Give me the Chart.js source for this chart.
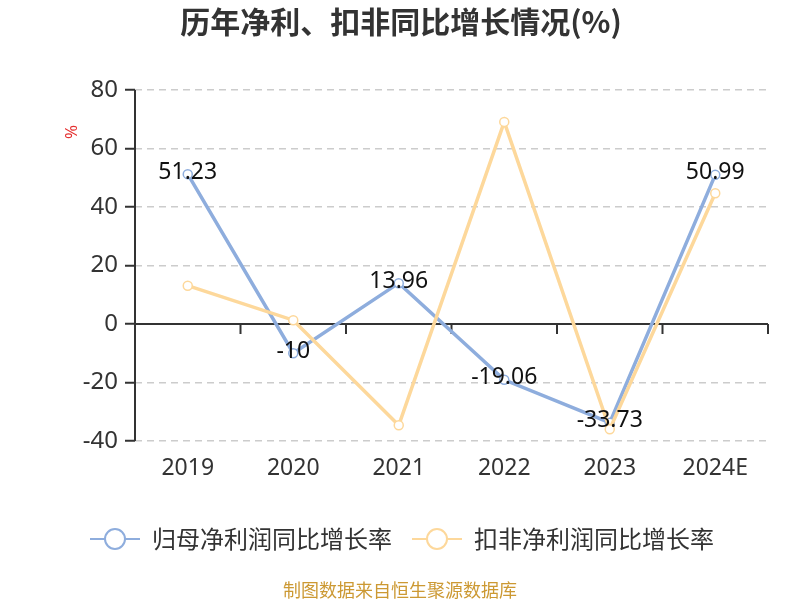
<!DOCTYPE html>
<html><head><meta charset="utf-8">
<script src="https://cdn.jsdelivr.net/npm/chart.js@4/dist/chart.umd.min.js"></script>
<style>html,body{margin:0;padding:0;background:#fff}#wrap{width:800px;height:600px;position:relative}</style>
</head><body><div id="wrap"><canvas id="c"></canvas></div>
<script>
const categories = ['2019', '2020', '2021', '2022', '2023', '2024E'];
const netProfitGrowth = [51.23, -10, 13.96, -19.06, -33.73, 50.99];
const deductedProfitGrowth = [13.1, 1.3, -34.6, 69.1, -36.0, 44.7];
const yTickValues = [-40, -20, 0, 20, 40, 60, 80];
const seriesNames = ['归母净利润同比增长率', '扣非净利润同比增长率'];
const titleText = '历年净利、扣非同比增长情况(%)';
const unitText = '%';
const sourceText = '制图数据来自恒生聚源数据库';

const BLUE = '#8eaddd';
const ORANGE = '#fdd89b';
const FONT = '"Noto Sans", "Noto Sans CJK SC", sans-serif';
const CJK = '"Noto Sans CJK SC", "Noto Sans", sans-serif';

function legendIcon(color) {
  const c = document.createElement('canvas');
  c.width = 50; c.height = 26;
  const g = c.getContext('2d');
  g.strokeStyle = color; g.lineWidth = 2;
  g.beginPath(); g.moveTo(0, 13); g.lineTo(50, 13); g.stroke();
  g.beginPath(); g.arc(25, 13, 10, 0, Math.PI * 2);
  g.fillStyle = '#fff'; g.fill(); g.stroke();
  return c;
}
const icons = [legendIcon(BLUE), legendIcon(ORANGE)];

const decorPlugin = {
  id: 'decor',
  beforeDatasetsDraw(chart) {
    const {ctx, chartArea, scales} = chart;
    const x = scales.x, y = scales.y;
    const y0 = y.getPixelForValue(0);
    ctx.save();
    ctx.strokeStyle = '#333'; ctx.lineWidth = 2;
    ctx.beginPath(); ctx.moveTo(chartArea.left, chartArea.top); ctx.lineTo(chartArea.left, chartArea.bottom); ctx.stroke();
    ctx.beginPath(); ctx.moveTo(chartArea.left, y0); ctx.lineTo(chartArea.right, y0); ctx.stroke();
    const n = categories.length;
    const step = x.getPixelForValue(1) - x.getPixelForValue(0);
    for (let i = 0; i < n; i++) {
      const bx = x.getPixelForValue(i) + step / 2;
      ctx.beginPath(); ctx.moveTo(bx, y0); ctx.lineTo(bx, y0 + 10); ctx.stroke();
    }
    ctx.restore();
  },
  afterDatasetsDraw(chart) {
    const {ctx} = chart;
    const meta = chart.getDatasetMeta(0);
    ctx.save();
    ctx.font = '23px ' + FONT;
    ctx.fillStyle = '#111';
    ctx.textAlign = 'center';
    ctx.textBaseline = 'middle';
    meta.data.forEach((pt, i) => {
      ctx.fillText(String(netProfitGrowth[i]), pt.x, pt.y - 2);
    });
    ctx.restore();
  },
  afterDraw(chart) {
    const {ctx} = chart;
    ctx.save();
    ctx.fillStyle = '#333';
    ctx.font = 'bold 30px ' + CJK;
    ctx.textAlign = 'center';
    ctx.textBaseline = 'middle';
    ctx.fillText(titleText, 401, 22);
    ctx.fillStyle = '#cc9933';
    ctx.font = '18px ' + CJK;
    ctx.fillText(sourceText, 400, 590);
    ctx.translate(72, 132);
    ctx.rotate(-Math.PI / 2);
    ctx.fillStyle = '#e53030';
    ctx.font = '17px ' + FONT;
    ctx.fillText(unitText, 0, 0);
    ctx.restore();
  }
};

new Chart(document.getElementById('c'), {
  type: 'line',
  data: {
    labels: categories,
    datasets: [
      {label: seriesNames[0], data: netProfitGrowth, borderColor: BLUE, backgroundColor: '#fff', order: 1,
       borderWidth: 3.5, pointRadius: 4.5, pointBorderWidth: 1.5, pointBackgroundColor: '#fff', pointBorderColor: BLUE, tension: 0},
      {label: seriesNames[1], data: deductedProfitGrowth, borderColor: ORANGE, backgroundColor: '#fff', order: 0,
       borderWidth: 3.5, pointRadius: 4.5, pointBorderWidth: 1.5, pointBackgroundColor: '#fff', pointBorderColor: ORANGE, tension: 0}
    ]
  },
  options: {
    responsive: true,
    maintainAspectRatio: false,
    animation: false,
    devicePixelRatio: 1,
    layout: {padding: {left: 70, right: 32, top: 90, bottom: 39}},
    scales: {
      x: {
        type: 'category',
        offset: true,
        grid: {display: false, drawTicks: false},
        border: {display: false},
        ticks: {font: {size: 23, family: FONT}, color: '#333', padding: 14, maxRotation: 0},
        afterFit(s) { s.height = 66; }
      },
      y: {
        min: -40, max: 80,
        afterBuildTicks(s) { s.ticks = yTickValues.map(v => ({value: v})); },
        ticks: {font: {size: 24, family: FONT}, color: '#333', padding: 7},
        grid: {
          color: (c) => (c.tick && c.tick.value === 0) ? 'rgba(0,0,0,0)' : '#cccccc',
          lineWidth: 1.5, tickLength: 10, tickColor: '#333', tickWidth: 2,
          borderDash: [7, 5], tickBorderDash: []
        },
        border: {display: false, dash: [7, 5]},
        afterFit(s) { s.width = 65; }
      }
    },
    plugins: {
      title: {display: false},
      tooltip: {enabled: false},
      legend: {
        display: true,
        position: 'bottom',
        align: 'start',
        labels: {
          usePointStyle: true,
          pointStyleWidth: 50,
          boxHeight: 24,
          padding: 20,
          color: '#333',
          font: {size: 24, family: CJK},
          generateLabels(chart) {
            return chart.data.datasets.map((ds, i) => ({
              text: ds.label, pointStyle: icons[i], fillStyle: '#fff', strokeStyle: ds.borderColor,
              lineWidth: 0, hidden: false, datasetIndex: i, fontColor: '#333'
            }));
          }
        }
      }
    }
  },
  plugins: [decorPlugin]
});
</script>
</body></html>
